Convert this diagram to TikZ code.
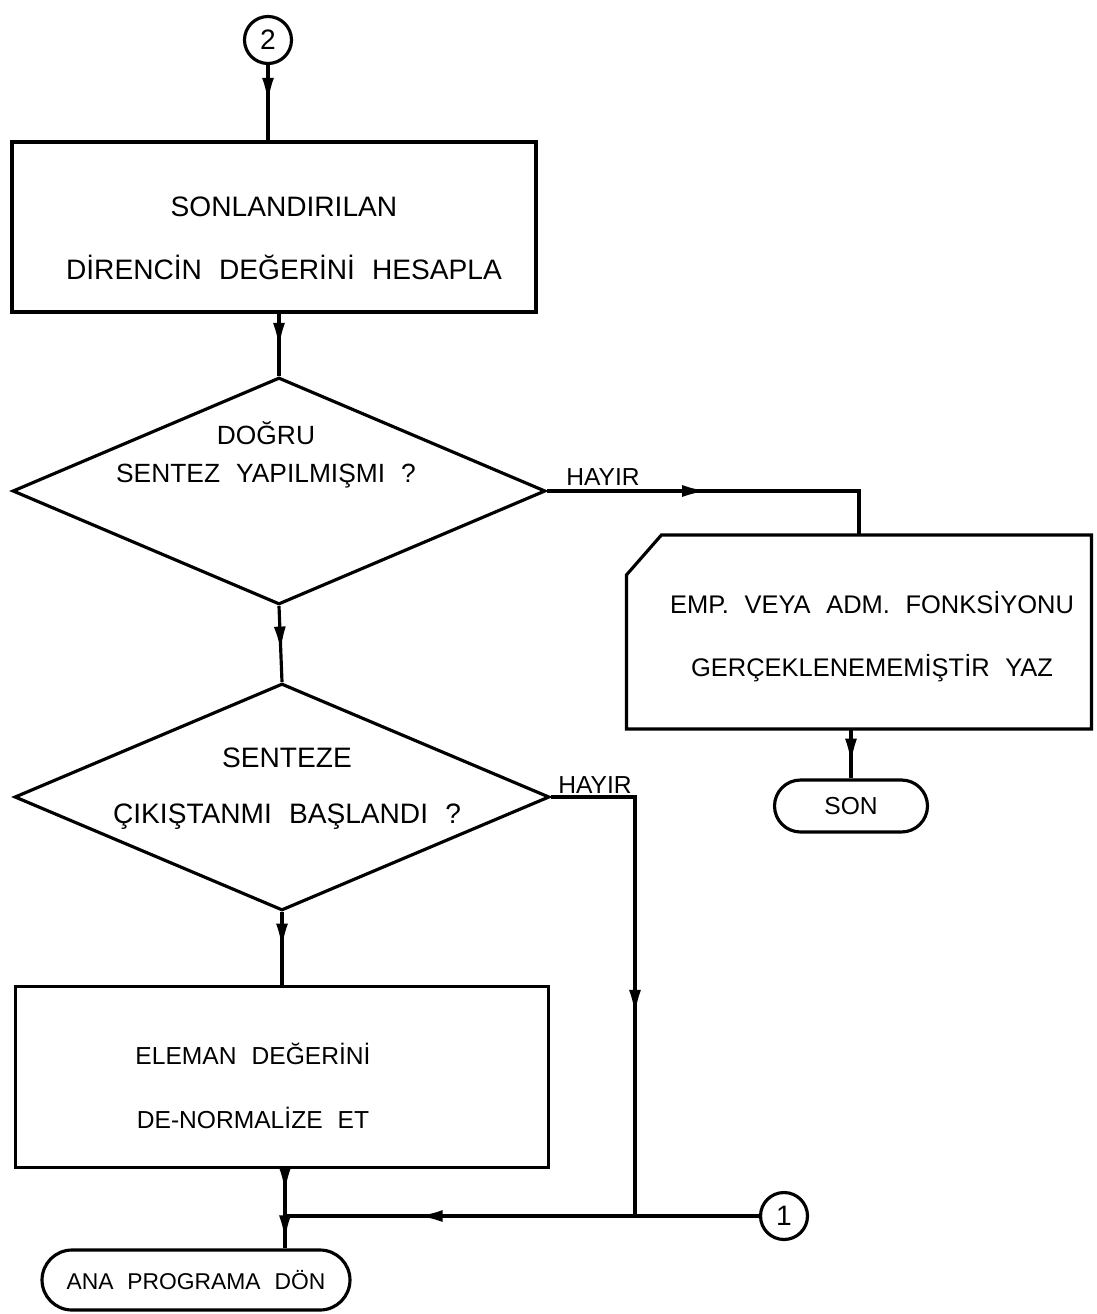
\documentclass[tikz,border=0pt]{standalone}
\usepackage{fontspec}
\setmainfont{Liberation Sans}[WordSpace=2.2]
\usepackage{tikz}
\usetikzlibrary{arrows.meta,positioning,shapes,decorations.markings}
\tikzset{
	flow/.style = {line width = 1.8pt},
	mid arrow/.style = {postaction = {decorate}, decoration = {markings,
		mark = at position #1 with {\arrow{Latex[length = 5mm, width = 2.4mm]}}}},
	process/.style = {draw, line width = 1.8pt, rectangle, inner sep = 0mm},
	decision/.style = {draw, line width = 1.8pt, diamond, inner sep = 0mm},
	terminal/.style = {draw, line width = 1.8pt, rounded rectangle, inner sep = 0mm},
	connector/.style = {draw, line width = 1.8pt, circle, inner sep = 0mm, minimum size = 9.4mm, font = \fontsize{16}{16}\selectfont},
	txt/.style = {font = \fontsize{16}{36}\selectfont, align = center},
	lbl/.style = {font = \fontsize{14}{14}\selectfont}
}
\begin{document}
\begin{tikzpicture}[x = 0.02cm, y = -0.02cm]
	\useasboundingbox (0, 0) rectangle (1097, 1314);

	% main column
	\node [connector] (c2) at (268, 40) {2};
	\node [process, minimum width = 10.48cm, minimum height = 3.4cm] (calc) at (274, 227) {};
	\node [txt] (calctxt) at (284, 238) {SONLANDIRILAN\\DİRENCİN DEĞERİNİ HESAPLA};

	\node [decision, minimum width = 10.66cm, minimum height = 4.54cm] (d1) at (279, 491) {};
	\node [txt, font = \fontsize{15}{21.5}\selectfont] (d1txt) at (266, 455) {DOĞRU\\SENTEZ YAPILMIŞMI ?};

	\node [decision, minimum width = 10.7cm, minimum height = 4.54cm] (d2) at (282, 797) {};
	\node [txt, font = \fontsize{16}{32}\selectfont] (d2txt) at (287, 789) {SENTEZE\\ÇIKIŞTANMI BAŞLANDI ?};

	\node [process, minimum width = 10.66cm, minimum height = 3.62cm] (elem) at (282, 1077) {};
	\node [txt, font = \fontsize{14}{36}\selectfont] (elemtxt) at (253, 1086) {ELEMAN DEĞERİNİ\\DE-NORMALİZE ET};

	\coordinate (join) at (285, 1216);
	\node [terminal, minimum width = 6.16cm, minimum height = 1.2cm, font = \fontsize{13}{13}\selectfont] (ana) at (196, 1280) {ANA PROGRAMA DÖN};

	% right branch
	\node [process, draw = none, minimum width = 9.24cm, minimum height = 3.82cm] (rep) at (859, 632) {};
	\draw [flow] ([yshift = -0.8cm]rep.north west) -- ([xshift = 0.7cm]rep.north west)
		-- (rep.north east) -- (rep.south east) -- (rep.south west) -- cycle;
	\node [txt, font = \fontsize{14.5}{36}\selectfont] (reptxt) at (872, 637) {EMP. VEYA ADM. FONKSİYONU\\GERÇEKLENEMEMİŞTİR YAZ};
	\node [terminal, minimum width = 3.06cm, minimum height = 1.04cm, font = \fontsize{14}{14}\selectfont] (son) at (851, 806) {SON};

	\node [connector] (c1) at (784, 1216) {1};
	\coordinate (merge) at (635, 1216);

	\node [lbl] (h1) at (603, 477) {HAYIR};
	\node [lbl] (h2) at (595, 785) {HAYIR};

	\draw [flow, mid arrow = 0.5] (c2.south) -- (c2.south |- calc.north);
	\draw [flow, mid arrow = 0.55] (d1.north |- calc.south) -- (d1.north);
	\draw [flow, mid arrow = 0.6] (d1.south) -- (d2.north);
	\draw [flow, mid arrow = 0.5] (d2.south) -- (elem.north);
	\draw [flow, mid arrow = 0.5] (elem.south -| join) -- (join);
	\draw [flow, mid arrow = 0.75] (join) -- (join |- ana.north);

	\draw [flow, mid arrow = 0.45] (d1.east) -| (rep.north);
	\draw [flow, mid arrow = 0.7] (son.north |- rep.south) -- (son.north);

	\draw [flow, mid arrow = 0.6] (d2.east) -| (merge);
	\draw [flow, mid arrow = 0.72] (c1) -- (join);
\end{tikzpicture}
\end{document}
